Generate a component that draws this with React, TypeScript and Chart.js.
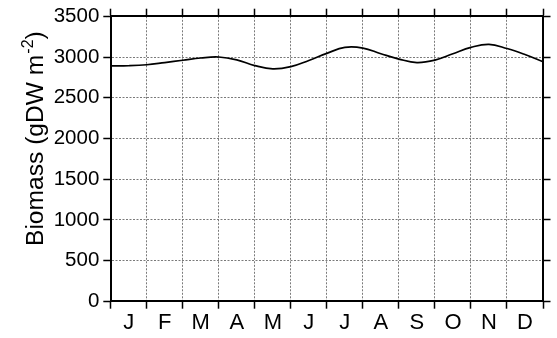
import React, { useEffect, useRef } from "react";
import { Chart, registerables } from "chart.js";

Chart.register(...registerables);

const MONTHS = ["J", "F", "M", "A", "M", "J", "J", "A", "S", "O", "N", "D"];
const MONTH_POS = [0, 0.5, 1, 1.5, 2, 2.5, 3, 3.5, 4, 4.5, 5, 5.5, 6, 6.5, 7, 7.5, 8, 8.5, 9, 9.5, 10, 10.5, 11, 11.5, 12];
const BIOMASS = [2890, 2893, 2905, 2932, 2960, 2988, 3000, 2965, 2895, 2855, 2882, 2958, 3045, 3118, 3110, 3040, 2975, 2932, 2962, 3040, 3118, 3156, 3104, 3030, 2943];
const Y_TICKS = [0, 500, 1000, 1500, 2000, 2500, 3000, 3500];

const FONT = "'Liberation Sans', Arial, Helvetica, sans-serif";
const GRID = "#7a7a7a";

const titlePlugin = {
  id: "yTitle",
  afterDraw(chart: any) {
    const ctx = chart.ctx;
    ctx.save();
    ctx.translate(43, 246);
    ctx.rotate(-Math.PI / 2);
    ctx.fillStyle = "#000";
    ctx.textBaseline = "alphabetic";
    ctx.textAlign = "left";
    ctx.font = `24.6px ${FONT}`;
    const main = "Biomass (gDW m";
    ctx.fillText(main, 0, 0);
    let x = ctx.measureText(main).width;
    ctx.font = `16px ${FONT}`;
    const sup = "-2";
    ctx.fillText(sup, x + 1, -10);
    x += ctx.measureText(sup).width + 1;
    ctx.font = `24.6px ${FONT}`;
    ctx.fillText(")", x, 0);
    ctx.restore();
  },
};

export default function App() {
  const ref = useRef<HTMLCanvasElement>(null);
  useEffect(() => {
    const isInt = (v: number) => Math.abs(v - Math.round(v)) < 1e-6;
    const chart = new Chart(ref.current as HTMLCanvasElement, {
      type: "line",
      data: {
        datasets: [
          {
            data: MONTH_POS.map((m, i) => ({ x: m, y: BIOMASS[i] })),
            borderColor: "#000",
            borderWidth: 1.7,
            pointRadius: 0,
            tension: 0.4,
            fill: false,
          },
        ],
      },
      options: {
        animation: false,
        responsive: false,
        events: [],
        layout: { padding: 0 },
        plugins: { legend: { display: false }, tooltip: { enabled: false } },
        scales: {
          x: {
            type: "linear",
            position: "bottom",
            min: 0,
            max: 12,
            afterFit: (s: any) => { s.height = 36.7; },
            ticks: {
              stepSize: 0.5,
              autoSkip: false,
              maxRotation: 0,
              minRotation: 0,
              padding: 0.8,
              color: "#000",
              font: { family: FONT, size: 22 },
              callback: (v: any) => (isInt(Number(v)) ? "" : MONTHS[Math.floor(Number(v))]),
            },
            grid: {
              color: (c: any) => (c.tick && isInt(c.tick.value) ? GRID : "rgba(0,0,0,0)"),
              tickColor: (c: any) => (c.tick && isInt(c.tick.value) ? "#000" : "rgba(0,0,0,0)"),
              lineWidth: 1,
              tickLength: 7.4,
              tickWidth: 1.5,
            },
            border: { display: true, color: "#000", width: 2, dash: [2, 1.5] },
          },
          x2: {
            type: "linear",
            position: "top",
            min: 0,
            max: 12,
            afterFit: (s: any) => { s.height = 12.3; },
            ticks: { stepSize: 1, display: false },
            grid: { drawOnChartArea: false, tickColor: "#000", tickLength: 7.6, tickWidth: 1.5 },
            border: { display: true, color: "#000", width: 2 },
          },
          y: {
            type: "linear",
            position: "left",
            min: 0,
            max: 3500,
            afterFit: (s: any) => { s.width = 110.7; },
            afterBuildTicks: (s: any) => { s.ticks = Y_TICKS.map((v) => ({ value: v })); },
            ticks: {
              stepSize: 500,
              padding: 4.0,
              color: "#000",
              font: { family: FONT, size: 20.5 },
              callback: (v: any) => String(v),
            },
            grid: { color: GRID, lineWidth: 1, tickColor: "#000", tickLength: 7.4, tickWidth: 1.5 },
            border: { display: true, color: "#000", width: 2, dash: [2, 1.5] },
          },
          y2: {
            type: "linear",
            position: "right",
            min: 0,
            max: 3500,
            afterFit: (s: any) => { s.width = 14; },
            ticks: { stepSize: 500, display: false },
            grid: { drawOnChartArea: false, tickColor: "#000", tickLength: 7.5, tickWidth: 1.5 },
            border: { display: true, color: "#000", width: 2 },
          },
        },
      } as any,
      plugins: [titlePlugin],
    });
    return () => chart.destroy();
  }, []);
  return (
    <div style={{ position: "fixed", left: 0, top: 0, width: 557, height: 338, background: "#fff" }}>
      <canvas ref={ref} width={557} height={338} style={{ display: "block" }} />
    </div>
  );
}
